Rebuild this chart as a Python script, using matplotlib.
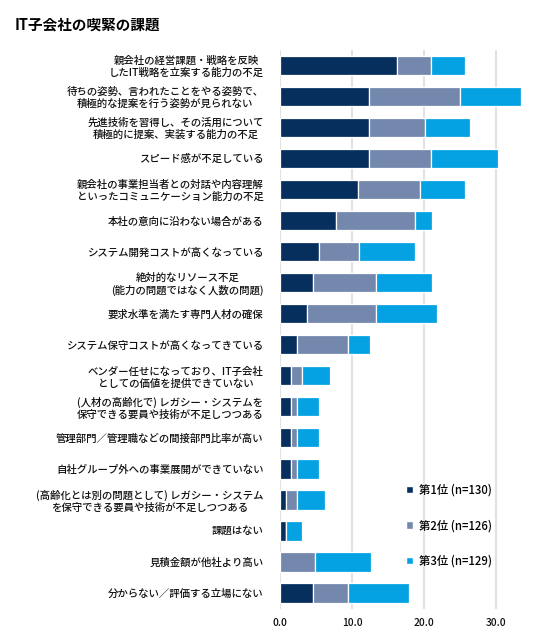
import matplotlib
matplotlib.use("Agg")
import matplotlib.pyplot as plt
from matplotlib.patches import Patch
import numpy as np

plt.rcParams['font.family'] = ['Noto Sans CJK JP', 'DejaVu Sans']

title = "IT子会社の喫緊の課題"
categories = [
    "親会社の経営課題・戦略を反映\nしたIT戦略を立案する能力の不足",
    "待ちの姿勢、言われたことをやる姿勢で、\n積極的な提案を行う姿勢が見られない",
    "先進技術を習得し、その活用について\n積極的に提案、実装する能力の不足",
    "スピード感が不足している",
    "親会社の事業担当者との対話や内容理解\nといったコミュニケーション能力の不足",
    "本社の意向に沿わない場合がある",
    "システム開発コストが高くなっている",
    "絶対的なリソース不足\n(能力の問題ではなく人数の問題)",
    "要求水準を満たす専門人材の確保",
    "システム保守コストが高くなってきている",
    "ベンダー任せになっており、IT子会社\nとしての価値を提供できていない",
    "(人材の高齢化で) レガシー・システムを\n保守できる要員や技術が不足しつつある",
    "管理部門／管理職などの間接部門比率が高い",
    "自社グループ外への事業展開ができていない",
    "(高齢化とは別の問題として) レガシー・システム\nを保守できる要員や技術が不足しつつある",
    "課題はない",
    "見積金額が他社より高い",
    "分からない／評価する立場にない",
]
series_names = ["第1位 (n=130)", "第2位 (n=126)", "第3位 (n=129)"]
rank1 = [16.2, 12.3, 12.3, 12.3, 10.8, 7.7, 5.4, 4.6, 3.8, 2.3, 1.5, 1.5, 1.5, 1.5, 0.8, 0.8, 0.0, 4.6]
rank2 = [4.8, 12.7, 7.9, 8.7, 8.7, 11.1, 5.6, 8.7, 9.5, 7.1, 1.6, 0.8, 0.8, 0.8, 1.6, 0.0, 4.8, 4.8]
rank3 = [4.7, 8.5, 6.2, 9.3, 6.2, 2.3, 7.8, 7.8, 8.5, 3.1, 3.9, 3.1, 3.1, 3.1, 3.9, 2.3, 7.8, 8.5]
xticks = [0, 10, 20, 30]
xticklabels = ["0.0", "10.0", "20.0", "30.0"]

colors = ["#062f5e", "#7488ae", "#04a2e2"]

fig = plt.figure(figsize=(5.45, 6.36), dpi=100)
ax = fig.add_axes([0.514, 0.043, 0.462, 0.879])

y = np.arange(len(categories))
left = np.zeros(len(categories))
for vals, c, name in zip([rank1, rank2, rank3], colors, series_names):
    vals = np.array(vals)
    ax.barh(y, vals, left=left, height=0.62, color=c, edgecolor="white",
            linewidth=0.9, label=name, zorder=3)
    left += vals

ax.set_ylim(len(categories) - 0.5, -0.5)
ax.set_xlim(0, 35)
ax.set_yticks(y)
ax.set_yticklabels(categories, fontsize=7.5, multialignment="center",
                   color="#111111", fontweight="medium")
ax.set_xticks(xticks)
ax.set_xticklabels(xticklabels, fontsize=7.3, color="#111111", fontweight="medium")
ax.tick_params(axis="y", length=0, pad=12)
ax.tick_params(axis="x", length=0, pad=7)
ax.grid(axis="x", color="#e2e2e2", linewidth=1.5, zorder=0)
for s in ax.spines.values():
    s.set_visible(False)

fig.text(0.027, 0.962, title, fontsize=10.5, fontweight="bold", ha="left", va="center")

handles = [Patch(facecolor=c, edgecolor="white") for c in colors]
fig.legend(handles, series_names, loc="upper left", bbox_to_anchor=(0.735, 0.249),
           frameon=False, fontsize=8.2, handlelength=0.6, handleheight=0.6,
           handletextpad=0.5, labelspacing=2.0, borderpad=0,
           prop={"size": 8.2, "weight": "medium"})

fig.savefig("out.png", dpi=100)
